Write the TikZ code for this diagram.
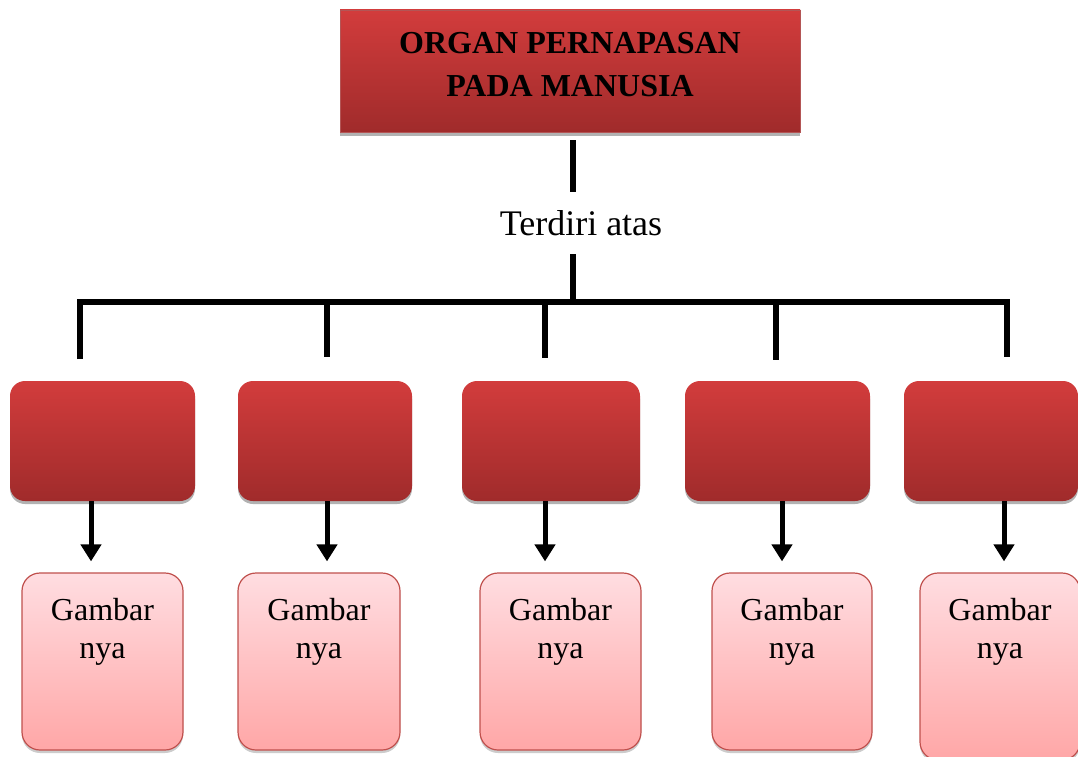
\documentclass[tikz,border=0pt]{standalone}
\usepackage{fontspec}
\setmainfont{Liberation Serif}
\usetikzlibrary{arrows.meta,shadows}
\definecolor{redtop}{HTML}{D23C3C}
\definecolor{redbot}{HTML}{A02B2B}
\definecolor{pinktop}{HTML}{FFDDE1}
\definecolor{pinkbot}{HTML}{FFA7A7}
\definecolor{pinkline}{HTML}{C0504D}
\begin{document}
\begin{tikzpicture}[x=1pt,y=-1pt,
  titlebox/.style={rectangle, top color=redtop, bottom color=redbot, draw=redbot!80, line width=0.8pt,
    minimum width=460pt, minimum height=122pt, inner sep=0pt,
    drop shadow={shadow xshift=0pt, shadow yshift=-4pt, fill=black!30, opacity=1}},
  redbox/.style={rounded corners=15pt, top color=redtop, bottom color=redbot, draw=none,
    minimum height=120pt, inner sep=0pt,
    drop shadow={shadow xshift=0pt, shadow yshift=-3pt, fill=black!30, opacity=1}},
  pinkbox/.style={rounded corners=18pt, top color=pinktop, bottom color=pinkbot, draw=pinkline,
    line width=1.2pt, inner sep=0pt,
    drop shadow={shadow xshift=0pt, shadow yshift=-3pt, fill=black!20, opacity=1}},
  gl/.style={anchor=north, yshift=-22pt, align=center, font=\fontsize{32}{38}\selectfont},
  conn/.style={line width=6pt, line join=miter},
  arr/.style={line width=5pt, -{Triangle[width=20pt,length=17pt]}, shorten >=11pt}]
\useasboundingbox (0,0) rectangle (1078,757);
\fill[white] (0,0) rectangle (1078,757);

% title
\node[titlebox, label={[yshift=6pt, align=center, font=\fontsize{32}{43}\selectfont\bfseries]center:ORGAN PERNAPASAN\\PADA MANUSIA}] (top) at (570,71) {};

\node[font=\fontsize{36}{40}\selectfont, minimum height=62pt, inner sep=0pt] (t) at (581,223) {Terdiri atas};

\coordinate (hub) at (573,302);
\coordinate (d1) at (80,359);
\coordinate (d2) at (327,357);
\coordinate (d3) at (545,358);
\coordinate (d4) at (776,360);
\coordinate (d5) at (1007,357);

\draw[conn] ([xshift=3pt,yshift=-8pt]top.south) -- ([xshift=3pt]top.south |- t.north);
\draw[conn] (hub |- t.south) -- (hub);
\draw[conn] (d1) -- (d1 |- hub) -- (d5 |- hub) -- (d5);
\draw[conn] (d2 |- hub) -- (d2);
\draw[conn] (d3 |- hub) -- (d3);
\draw[conn] (d4 |- hub) -- (d4);

% red boxes
\node[redbox, minimum width=185pt] (r1) at (102.5,441) {};
\node[redbox, minimum width=174pt] (r2) at (325,441) {};
\node[redbox, minimum width=178pt] (r3) at (551,441) {};
\node[redbox, minimum width=185pt] (r4) at (777.5,441) {};
\node[redbox, minimum width=174pt] (r5) at (991,441) {};

% pink boxes
\node[pinkbox, minimum width=161pt, minimum height=177pt, label={[gl]north:Gambar\\nya}] (p1) at (102.5,661.5) {};
\node[pinkbox, minimum width=162pt, minimum height=177pt, label={[gl]north:Gambar\\nya}] (p2) at (319,661.5) {};
\node[pinkbox, minimum width=161pt, minimum height=177pt, label={[gl]north:Gambar\\nya}] (p3) at (560.5,661.5) {};
\node[pinkbox, minimum width=160pt, minimum height=177pt, label={[gl]north:Gambar\\nya}] (p4) at (792,661.5) {};
\node[pinkbox, minimum width=160pt, minimum height=187pt, label={[gl]north:Gambar\\nya}] (p5) at (1000,666.5) {};

% arrows
\draw[arr] ([xshift=-11.5pt]r1.south) -- ([xshift=-11.5pt]r1.south |- p1.north);
\draw[arr] ([xshift=2pt]r2.south) -- ([xshift=2pt]r2.south |- p2.north);
\draw[arr] ([xshift=-6pt]r3.south) -- ([xshift=-6pt]r3.south |- p3.north);
\draw[arr] ([xshift=4.5pt]r4.south) -- ([xshift=4.5pt]r4.south |- p4.north);
\draw[arr] ([xshift=13pt]r5.south) -- ([xshift=13pt]r5.south |- p5.north);
\end{tikzpicture}
\end{document}
